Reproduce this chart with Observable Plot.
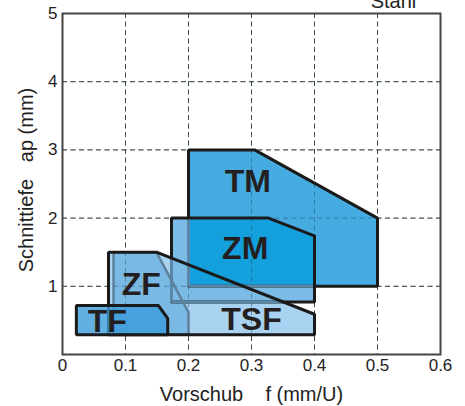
<!DOCTYPE html>
<html>
<head>
<meta charset="utf-8">
<script src="https://cdn.jsdelivr.net/npm/d3@7"></script>
<script src="https://cdn.jsdelivr.net/npm/@observablehq/plot@0.6"></script>
<style>
  html, body { margin: 0; padding: 0; background: #fff; }
</style>
</head>
<body>
<div id="chart"></div>
<script>
// ---- data (feed f in mm/U, depth of cut ap in mm) ----
const tmF  = [0.2, 0.305, 0.5, 0.5, 0.2];
const tmAp = [3, 3, 2, 1, 1];
const zmF  = [0.173, 0.327, 0.4, 0.4, 0.173];
const zmAp = [2, 2, 1.74, 0.77, 0.77];
const tsfF  = [0.073, 0.149, 0.4, 0.4, 0.073];
const tsfAp = [1.5, 1.5, 0.59, 0.29, 0.29];
const zfF  = [0.081, 0.149, 0.2, 0.2, 0.081];
const zfAp = [1.5, 1.5, 0.62, 0.29, 0.29];
const tfF  = [0.022, 0.152, 0.167, 0.167, 0.022];
const tfAp = [0.72, 0.72, 0.53, 0.29, 0.29];

const labelText = ["TM", "ZM", "ZF", "TF", "TSF"];
const labelF    = [0.294, 0.29, 0.125, 0.071, 0.30];
const labelAp   = [2.53, 1.55, 1.03, 0.48, 0.515];

const xTicks = [0, 0.1, 0.2, 0.3, 0.4, 0.5, 0.6];
const xTickLabels = ["0", "0.1", "0.2", "0.3", "0.4", "0.5", "0.6"];
const yTicks = [1, 2, 3, 4, 5];
const yTickLabels = ["1", "2", "3", "4", "5"];
const xGrid = [0.1, 0.2, 0.3, 0.4, 0.5];
const yGrid = [1, 2, 3, 4];

const xTitle = "Vorschub\u00a0\u00a0\u00a0\u00a0f (mm/U)";
const yTitle = "Schnittiefe\u00a0\u00a0\u00a0ap (mm)";
const cornerNote = "Stahl";

// ---- helpers ----
const pts = (F, A) => F.map((f, i) => ({f, ap: A[i]}));
const TM = pts(tmF, tmAp), ZM = pts(zmF, zmAp), TSF = pts(tsfF, tsfAp),
      ZF = pts(zfF, zfAp), TF = pts(tfF, tfAp);

function area(P) {
  let s = 0;
  for (let i = 0; i < P.length; i++) {
    const j = (i + 1) % P.length;
    s += P[i].f * P[j].ap - P[j].f * P[i].ap;
  }
  return s / 2;
}
function edges(poly) {
  const ccw = area(poly) > 0;
  return poly.map((v, i) => {
    const w = poly[(i + 1) % poly.length];
    const ex = w.f - v.f, ey = w.ap - v.ap;
    return {v, nx: ccw ? -ey : ey, ny: ccw ? ex : -ex};
  });
}
function clipSeg(p0, p1, poly) {
  let tE = 0, tL = 1;
  for (const {v, nx, ny} of edges(poly)) {
    const num = nx * (p0.f - v.f) + ny * (p0.ap - v.ap);
    const den = nx * (p1.f - p0.f) + ny * (p1.ap - p0.ap);
    if (Math.abs(den) < 1e-12) { if (num < -1e-9) return null; }
    else {
      const t = -num / den;
      if (den > 0) tE = Math.max(tE, t); else tL = Math.min(tL, t);
    }
  }
  if (tE >= tL - 1e-9) return null;
  const L = t => ({f: p0.f + t * (p1.f - p0.f), ap: p0.ap + t * (p1.ap - p0.ap)});
  const a = L(tE), b = L(tL);
  return {x1: a.f, y1: a.ap, x2: b.f, y2: b.ap};
}
function outlineInside(poly, clip) {
  const out = [];
  poly.forEach((p, i) => {
    const s = clipSeg(p, poly[(i + 1) % poly.length], clip);
    if (s) out.push(s);
  });
  return out;
}
function clipPoly(subject, clip) {
  let output = subject;
  for (const {v, nx, ny} of edges(clip)) {
    const input = output; output = [];
    const d = p => nx * (p.f - v.f) + ny * (p.ap - v.ap);
    for (let k = 0; k < input.length; k++) {
      const cur = input[k], prev = input[(k - 1 + input.length) % input.length];
      const dc = d(cur), dp = d(prev);
      const cross = () => { const t = dp / (dp - dc); return {f: prev.f + t * (cur.f - prev.f), ap: prev.ap + t * (cur.ap - prev.ap)}; };
      if (dc >= -1e-9) { if (dp < -1e-9) output.push(cross()); output.push(cur); }
      else if (dp >= -1e-9) output.push(cross());
    }
  }
  return output;
}

const ZMinTM = clipPoly(ZM, TM);
const tmHidden = outlineInside(TM, ZM);
const zmHidden = outlineInside(ZM, TSF);
const labels = labelText.map((t, i) => ({t, f: labelF[i], ap: labelAp[i]}));

const fillShape = (P, fill, extra = {}) =>
  Plot.line(P, {x: "f", y: "ap", curve: "linear-closed", fill, stroke: "none", ...extra});
const strokeShape = (P, stroke, w = 3) =>
  Plot.line(P, {x: "f", y: "ap", curve: "linear-closed", fill: "none", stroke, strokeWidth: w, strokeLinejoin: "miter"});

const xMap = new Map(xTicks.map((d, i) => [d, xTickLabels[i]]));
const yMap = new Map(yTicks.map((d, i) => [d, yTickLabels[i]]));

const chart = Plot.plot({
  width: 465,
  height: 406,
  marginLeft: 62,
  marginRight: 25,
  marginTop: 13,
  marginBottom: 52,
  style: {fontFamily: "'Liberation Sans', Arial, Helvetica, sans-serif", fontSize: "17px", color: "#222", background: "#fff"},
  x: {domain: [0, 0.6], ticks: xTicks, tickFormat: d => xMap.get(d), tickSize: 0, tickPadding: 4, label: null},
  y: {domain: [0, 5], ticks: yTicks, tickFormat: d => yMap.get(d), tickSize: 0, tickPadding: 5, label: null},
  marks: [
    Plot.ruleX(xGrid, {stroke: "#4a4a4a", strokeWidth: 1, strokeDasharray: "5,3.5"}),
    Plot.ruleY(yGrid, {stroke: "#4a4a4a", strokeWidth: 1, strokeDasharray: "5,3.5"}),
    fillShape(TSF, "#a9d1f0"),
    fillShape(ZF, "#7bb9e5"),
    fillShape(TM, "#46abe0"),
    fillShape(ZM, "#7bbbe6"),
    fillShape(ZMinTM, "#14a0dc"),
    Plot.ruleX(xGrid, {stroke: "#23445c", strokeOpacity: 0.45, strokeWidth: 1, strokeDasharray: "5,3.5"}),
    Plot.ruleY(yGrid, {stroke: "#23445c", strokeOpacity: 0.45, strokeWidth: 1, strokeDasharray: "5,3.5"}),
    strokeShape(TM, "#1a1a1a"),
    Plot.link(tmHidden, {x1: "x1", y1: "y1", x2: "x2", y2: "y2", stroke: "#5a87a8", strokeWidth: 3}),
    strokeShape(ZM, "#1a1a1a"),
    Plot.link(zmHidden, {x1: "x1", y1: "y1", x2: "x2", y2: "y2", stroke: "#5a87a8", strokeWidth: 3}),
    strokeShape(ZF, "#5d819c", 2.5),
    strokeShape(TSF, "#1a1a1a"),
    fillShape(TF, "#3b9bd9", {fillOpacity: 0.8}),
    strokeShape(TF, "#1a1a1a"),
    Plot.text(labels, {x: "f", y: "ap", text: "t", fontSize: 32, fontWeight: "bold", fill: "#231f20"}),
    Plot.frame({stroke: "#444", strokeWidth: 2}),
    Plot.text([xTitle], {frameAnchor: "bottom", textAnchor: "middle", lineAnchor: "middle", dy: 40, fontSize: 20, fill: "#222"}),
    Plot.text([yTitle], {frameAnchor: "left", textAnchor: "middle", lineAnchor: "middle", rotate: -90, dx: -36, dy: -4, fontSize: 20, fill: "#222"}),
    Plot.text([cornerNote], {frameAnchor: "top-right", textAnchor: "middle", lineAnchor: "bottom", dx: -47, dy: -6, fontSize: 20, fill: "#222"})
  ]
});
document.getElementById("chart").appendChild(chart);
</script>
</body>
</html>
